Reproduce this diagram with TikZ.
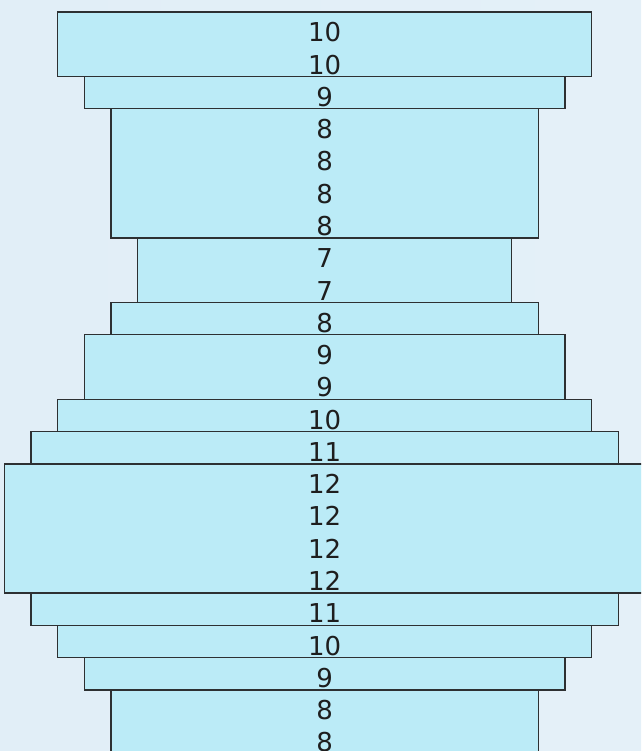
\documentclass[tikz,border=0pt]{standalone}
\usepackage{fontspec}
\setmainfont{DejaVu Sans}
\definecolor{bgcol}{RGB}{225,238,247}
\definecolor{boxfill}{RGB}{187,235,247}
\definecolor{boxline}{RGB}{45,48,50}
\definecolor{txtcol}{RGB}{30,30,30}
\tikzset{
  stackbox/.style={fill=boxfill, draw=boxline, line width=1.3pt},
  numlabel/.style={anchor=base, inner sep=0pt, text=txtcol, font=\fontsize{26}{26}\selectfont}
}
\begin{document}
\begin{tikzpicture}[x=1pt,y=-1pt]
\useasboundingbox (0,0) rectangle (641,751);
\clip (0,0) rectangle (641,751);
\shade[left color=bgcol, right color={rgb,255:red,228;green,240;blue,248}] (0,0) rectangle (641,751);
\def\cx{324.7}
\def\rh{32.28}
\def\top{12}
\def\unit{26.7}
% groups: value / first row / number of rows
\foreach \n/\s/\c in {10/0/2, 9/2/1, 8/3/4, 7/7/2, 8/9/1, 9/10/2, 10/12/1, 11/13/1, 12/14/4, 11/18/1, 10/19/1, 9/20/1, 8/21/3}{
  \draw[stackbox] ({\cx-\unit*\n},{\top+\rh*\s}) rectangle ({\cx+\unit*\n},{\top+\rh*(\s+\c)});
}
\foreach \n [count=\i from 0] in {10,10,9,8,8,8,8,7,7,8,9,9,10,11,12,12,12,12,11,10,9,8,8}{
  \node[numlabel] (t\i) at (\cx,{\top+\rh*(\i+1)-2.5}) {\n};
}
\end{tikzpicture}
\end{document}
